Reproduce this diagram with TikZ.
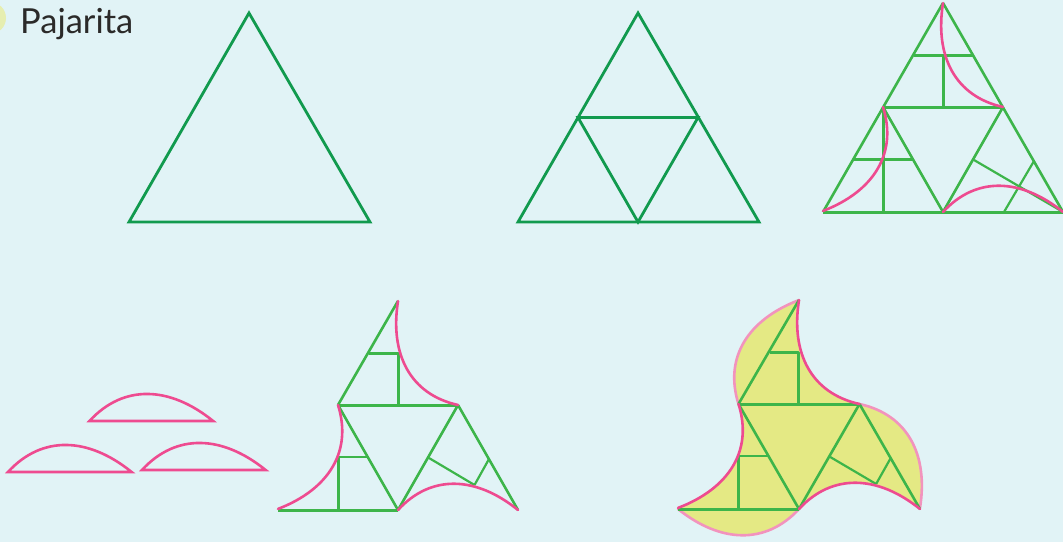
\documentclass[tikz,border=0pt]{standalone}
\usepackage{fontspec}
\setmainfont{Lato}
\definecolor{bgc}{HTML}{E1F3F6}
\definecolor{dgreen}{HTML}{119A4E}
\definecolor{lgreen}{HTML}{3DB54A}
\definecolor{pinkc}{HTML}{EE4B90}
\definecolor{lpink}{HTML}{F293BD}
\definecolor{fillc}{HTML}{E4E984}
\definecolor{dotc}{HTML}{E6EEB0}
\definecolor{textc}{HTML}{2B2A29}
\tikzset{
  bigtri/.style={draw=dgreen,line width=2.8pt,line join=miter},
  gline/.style={draw=lgreen,line width=2.6pt,line join=round},
  gaxis/.style={draw=lgreen,line width=3pt,line join=round},
  thing/.style={draw=lgreen,line width=2.2pt,line join=round},
  pline/.style={draw=pinkc,line width=2.6pt,line cap=round,line join=miter},
  oline/.style={draw=lpink,line width=2.6pt,line cap=round},
}
% arc control points: chord of 120 from #2, turned by #3
\newcommand\arcpts[3]{\begin{scope}[shift={(#2)},rotate=#3]
  \coordinate (#1s) at (0,0);
  \coordinate (#1a) at (33,-36);
  \coordinate (#1b) at (78,-34);
  \coordinate (#1e) at (120,0);
\end{scope}}
\newcommand\framepts{%
  \coordinate (BL) at (0,0);
  \coordinate (BM) at (120,0);
  \coordinate (BR) at (240,0);
  \coordinate (ML) at (60,-105);
  \coordinate (MR) at (180,-105);
  \coordinate (AP) at (120,-209);
  \coordinate (T1) at (91,-157);
  \coordinate (T2) at (150,-157);
  \coordinate (T3) at (120,-157);
  \coordinate (T4) at (120,-105);
  \coordinate (S1) at (31,-53);
  \coordinate (S2) at (89,-53);
  \coordinate (S3) at (60,-53);
  \coordinate (S4) at (60,0);
  \coordinate (R1) at (151,-52);
  \coordinate (R2) at (211,-51);
  \coordinate (R3) at (196.5,-25);
  \coordinate (R4) at (181,0);
  \arcpts{iL}{ML}{240}
  \arcpts{iA}{MR}{120}
  \arcpts{iB}{BM}{0}
  \arcpts{oL}{ML}{60}
  \arcpts{oR}{MR}{300}
  \arcpts{oB}{BM}{180}
}
% the figure after the three caps have moved
\newcommand\birdlines{%
  \draw[gline] (ML) -- (AP);
  \draw[gline] (MR) -- (BR);
  \draw[gaxis] (ML) -- (MR);
  \draw[gline] (ML) -- (BM) -- (MR);
  \draw[gaxis] (BL) -- (BM);
  \draw[gaxis] (T1) -- (T3) -- (T4);
  \draw[thing] (S3) -- (S2);
  \draw[gaxis] (S3) -- (S4);
  \draw[thing] (R1) -- (R3);
  \draw[thing] (R2) -- (R3);
  \draw[pline] (iAs) .. controls (iAa) and (iAb) .. (iAe);
  \draw[pline] (iLs) .. controls (iLa) and (iLb) .. (iLe);
  \draw[pline] (iBs) .. controls (iBa) and (iBb) .. (iBe);
}
\begin{document}
\begin{tikzpicture}[x=1pt,y=-1pt]
\useasboundingbox (0,0) rectangle (1063,542);
\fill[bgc] (0,0) rectangle (1063,542);
\begin{scope}
  \clip (0,0) rectangle (1063,542);
  \fill[dotc] (-10,18) circle (16);
\end{scope}
\node[anchor=base west,inner sep=0pt,text=textc,font=\fontsize{34.5}{34.5}\selectfont] (title) at (20,33) {Pajarita};

% first triangle
\coordinate (a1) at (249,13);
\coordinate (a2) at (129,222);
\coordinate (a3) at (370,222);
\draw[bigtri] (a1) -- (a2) -- (a3) -- cycle;

% second triangle
\coordinate (b1) at (638,13);
\coordinate (b2) at (518,222);
\coordinate (b3) at (759,222);
\coordinate (b4) at (578,117.5);
\coordinate (b5) at (698,117.5);
\coordinate (b6) at (638,222);
\draw[bigtri] (b1) -- (b2) -- (b3) -- cycle;
\draw[bigtri] (b4) -- (b5) -- (b6) -- cycle;

% third triangle with construction lines
\begin{scope}[shift={(823,212)}]
  \framepts
  \draw[gline] (AP) -- (BL);
  \draw[gline] (AP) -- (BR);
  \draw[gaxis] (BL) -- (BR);
  \draw[gaxis] (ML) -- (MR);
  \draw[gline] (MR) -- (BM) -- (ML);
  \draw[gaxis] (T1) -- (T2);
  \draw[gaxis] (T3) -- (T4);
  \draw[gaxis] (S1) -- (S2);
  \draw[gaxis] (ML) -- (S4);
  \draw[thing] (R1) -- (BR);
  \draw[thing] (R2) -- (R4);
  \draw[pline] (iAs) .. controls (iAa) and (iAb) .. (iAe);
  \draw[pline] (iLs) .. controls (iLa) and (iLb) .. (iLe);
  \draw[pline] (iBs) .. controls (iBa) and (iBb) .. (iBe);
\end{scope}

% the three caps
\begin{scope}[shift={(89.5,421)},scale=1.03]
  \arcpts{c}{0,0}{0}
  \draw[pline] (cs) .. controls (ca) and (cb) .. (ce) -- cycle;
\end{scope}
\begin{scope}[shift={(8,472)},scale=1.03]
  \arcpts{c}{0,0}{0}
  \draw[pline] (cs) .. controls (ca) and (cb) .. (ce) -- cycle;
\end{scope}
\begin{scope}[shift={(142,470)},scale=1.03]
  \arcpts{c}{0,0}{0}
  \draw[pline] (cs) .. controls (ca) and (cb) .. (ce) -- cycle;
\end{scope}

% figure without caps
\begin{scope}[shift={(278,510)}]
  \framepts
  \birdlines
\end{scope}

% finished figure
\begin{scope}[shift={(678,509)},xscale=1.008]
  \framepts
  \fill[fillc] (iLe) .. controls (iLb) and (iLa) .. (iLs)
     .. controls (oLa) and (oLb) .. (oLe)
     .. controls (iAb) and (iAa) .. (iAs)
     .. controls (oRa) and (oRb) .. (oRe)
     .. controls (iBb) and (iBa) .. (iBs)
     .. controls (oBa) and (oBb) .. (oBe) -- cycle;
  \draw[oline] (oLs) .. controls (oLa) and (oLb) .. (oLe);
  \draw[oline] (oRs) .. controls (oRa) and (oRb) .. (oRe);
  \draw[oline] (oBs) .. controls (oBa) and (oBb) .. (oBe);
  \birdlines
\end{scope}
\end{tikzpicture}
\end{document}
